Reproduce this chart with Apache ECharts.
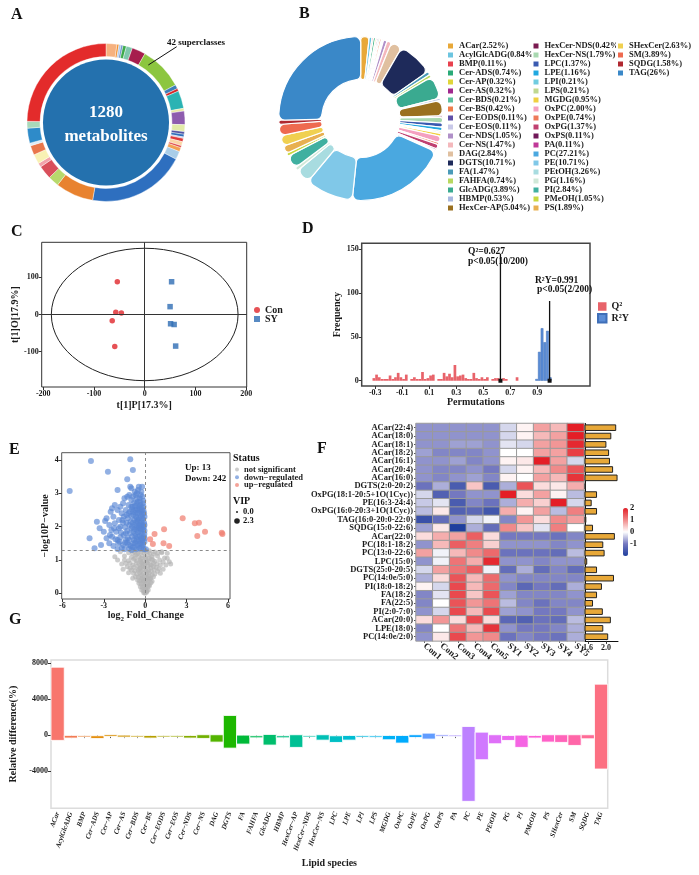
<!DOCTYPE html>
<html>
<head>
<meta charset="utf-8">
<title>Lipidomics overview</title>
<script src="https://cdn.jsdelivr.net/npm/echarts@6.0.0/dist/echarts.min.js"></script>
<style>
  html, body { margin: 0; padding: 0; background: #fff; }
  #chart { width: 699px; height: 875px; }
</style>
</head>
<body>
<div id="chart"></div>
<script>
const aTotal = 1280
const aSuper = 42
const aDeg = [8, 1.5, 1.5, 1.5, 2.5, 4.5, 10, 32, 3, 2, 13, 2, 10, 5, 2, 2, 1, 2.5, 3, 1.5, 3, 6, 72, 28, 8, 10, 3, 7, 7, 2, 11, 5, 89]
const aColors = ['#F6B17F', '#F28E2B', '#AEC7E8', '#6E94CF', '#3DAA4B', '#7FC8AC', '#A61E4D', '#8CC63F', '#3D7EB8', '#D62728',
  '#2BB3B3', '#E8E8A4', '#8E5CAE', '#E2EBA8', '#5454A4', '#2F6EBA', '#C9C9E2', '#E03A3A', '#FAD6A6', '#E04848', '#F2A154',
  '#A9CDE8', '#2E6FBF', '#E8822F', '#B7D96C', '#D94F5B', '#F2A3AB', '#F8F1B4', '#E9764B', '#DDEAF6', '#2E8BC9', '#A9D9BA', '#E32B2B']

// ---------- B: lipid classes ----------
const bNames = ['ACar', 'AcylGlcADG', 'BMP', 'Cer-ADS', 'Cer-AP', 'Cer-AS', 'Cer-BDS', 'Cer-BS', 'Cer-EODS', 'Cer-EOS',
  'Cer-NDS', 'Cer-NS', 'DAG', 'DGTS', 'FA', 'FAHFA', 'GlcADG', 'HBMP', 'HexCer-AP', 'HexCer-NDS',
  'HexCer-NS', 'LPC', 'LPE', 'LPI', 'LPS', 'MGDG', 'OxPC', 'OxPE', 'OxPG', 'OxPS',
  'PA', 'PC', 'PE', 'PEtOH', 'PG', 'PI', 'PMeOH', 'PS', 'SHexCer', 'SM', 'SQDG', 'TAG']
// percentages as printed in the legend
const bPct = ['2.52', '0.84', '0.11', '0.74', '0.32', '0.32', '0.21', '0.42', '0.11', '0.11',
  '1.05', '1.47', '2.84', '10.71', '1.47', '0.74', '3.89', '0.53', '5.04', '0.42',
  '1.79', '1.37', '1.16', '0.21', '0.21', '0.95', '2.00', '0.74', '1.37', '0.11',
  '0.11', '27.21', '10.71', '3.26', '1.16', '2.84', '1.05', '1.89', '2.63', '3.89', '1.58', '26']
// slice sizes as drawn in the donut (degrees)
const bDeg = [6, 2, 1, 1.5, 1, 1, 1, 1.2, 0.8, 0.8,
  2.5, 3.2, 8, 25, 2.5, 2, 16, 1.5, 11, 1,
  4, 3, 2.5, 1, 1, 2, 4.5, 1.5, 3.2, 1,
  1, 72, 34, 10.5, 2.5, 9.5, 2.3, 5.5, 7.5, 8, 3, 91]
const bColors = ['#E8A838', '#6CC5E0', '#E8414E', '#2AAA78', '#E0D53A', '#A0288E', '#5CC0A0', '#EE7D4C', '#6050A8', '#C8C8E8',
  '#B090C8', '#F4B8BC', '#E0C0A0', '#1E2A5A', '#4A9AB8', '#B8D860', '#3AAA90', '#A8B8E0', '#9A7020', '#7A1A50',
  '#A8D8B0', '#3A5AB0', '#20A8E0', '#70CCE0', '#C0D890', '#F0D040', '#F4A0C0', '#EE7A5A', '#C04070', '#701858',
  '#C03898', '#4AA8E0', '#80C8E8', '#A8DCE0', '#D0E8D8', '#40B0A0', '#C8D840', '#E8B050', '#F0D050', '#EE6A50', '#B02830', '#3A88C8']

// ---------- C: OPLS-DA scores ----------
const cCon = [[-54, 88], [-57, 6], [-46, 4], [-64, -17], [-59, -86]]
const cSY = [[53, 88], [50, 21], [51, -25], [58, -27], [61, -85]]
const cEllipse = [0, 0, 184, 178]
const cTicksX = [-200, -100, 0, 100, 200]
const cTicksY = [-100, 0, 100]

// ---------- D: permutation test ----------
const q2Perm = [[-0.31, 3], [-0.29, 7], [-0.27, 4], [-0.25, 2], [-0.23, 2], [-0.21, 2], [-0.19, 6], [-0.17, 2], [-0.15, 4], [-0.13, 9],
  [-0.11, 4], [-0.09, 2], [-0.07, 7], [-0.03, 2], [-0.01, 4], [0.01, 2], [0.03, 2], [0.05, 10], [0.07, 2], [0.09, 3],
  [0.11, 6], [0.13, 7], [0.17, 2], [0.19, 2], [0.21, 9], [0.23, 5], [0.25, 8], [0.27, 4], [0.29, 18], [0.31, 5],
  [0.33, 6], [0.35, 7], [0.37, 3], [0.39, 2], [0.41, 2], [0.43, 9], [0.45, 3], [0.47, 2], [0.49, 4], [0.51, 2],
  [0.53, 4], [0.57, 2], [0.59, 3], [0.61, 3], [0.65, 3], [0.67, 2], [0.75, 4]]
const r2Perm = [[0.895, 2], [0.915, 33], [0.935, 60], [0.955, 44], [0.975, 57], [0.995, 4]]
const q2Obs = 0.627, q2Line = 145
const r2Obs = 0.991, r2Line = 91
const dTicksX = [-0.3, -0.1, 0.1, 0.3, 0.5, 0.7, 0.9]
const dTicksY = [0, 50, 100, 150]

// ---------- E: volcano ----------
const eUpCount = 13, eDownCount = 242
const eUp = [[2.72, 2.25], [3.6, 2.1], [3.9, 2.12], [4.34, 1.85], [5.55, 1.82], [5.6, 1.78], [3.78, 1.72],
  [1.37, 1.92], [0.68, 1.78], [0.36, 1.62], [0.56, 1.48], [1.33, 1.5], [1.74, 1.42]]
const eDown = [[-5.47, 3.07], [-3.93, 3.97], [-1.08, 4.02], [-2.7, 3.65], [-0.89, 3.7], [-1.3, 3.42], [-2.0, 3.1], [-1.08, 3.2],
  [-1.0, 3.15], [-0.6, 3.0], [-4.03, 1.65], [-3.5, 2.15], [-2.9, 2.17], [-3.3, 1.95], [-3.67, 1.35], [-2.4, 2.55], [-1.8, 2.6],
  [-1.5, 2.85], [-1.3, 2.9], [-0.7, 2.95], [-0.4, 2.85], [-0.2, 2.9], [-1.0, 2.8], [-0.55, 2.75],
  [-2.2, 2.65], [-1.6, 2.7], [-1.2, 2.65], [-0.9, 2.6], [-0.6, 2.7], [-0.35, 2.65], [-0.15, 2.7], [-0.8, 2.72], [-0.45, 2.6], [-0.25, 2.58],
  [-2.5, 2.45], [-2.0, 2.5], [-1.7, 2.4], [-1.4, 2.5], [-1.1, 2.45], [-0.95, 2.52], [-0.7, 2.42], [-0.5, 2.5], [-0.3, 2.45], [-0.12, 2.48],
  [-0.6, 2.55], [-0.2, 2.38], [-0.85, 2.36],
  [-2.8, 2.25], [-2.3, 2.3], [-1.9, 2.2], [-1.55, 2.3], [-1.25, 2.25], [-1.0, 2.32], [-0.8, 2.2], [-0.65, 2.3], [-0.45, 2.25], [-0.3, 2.32],
  [-0.15, 2.22], [-0.05, 2.3], [-0.55, 2.15], [-1.35, 2.12], [-0.9, 2.12],
  [-2.6, 2.05], [-2.2, 2.1], [-1.8, 2.0], [-1.6, 2.12], [-1.15, 2.05], [-0.75, 2.05], [-0.4, 2.1], [-0.2, 2.05], [-0.08, 2.12], [-0.6, 1.98],
  [-0.35, 1.95], [-1.0, 1.95], [-1.45, 1.98], [-0.15, 1.92],
  [-3.0, 1.85], [-2.45, 1.9], [-2.1, 1.85], [-1.75, 1.82], [-1.3, 1.88], [-0.85, 1.85], [-0.5, 1.83], [-0.25, 1.8], [-0.05, 1.88], [-1.1, 1.8],
  [-0.7, 1.78], [-1.55, 1.75], [-0.4, 1.72],
  [-2.8, 1.65], [-2.4, 1.7], [-2.0, 1.6], [-1.8, 1.68], [-1.25, 1.65], [-0.95, 1.7], [-0.6, 1.62], [-0.3, 1.66], [-0.1, 1.7], [-0.8, 1.6],
  [-0.45, 1.58], [-1.4, 1.6], [-0.2, 1.58],
  [-3.2, 1.45], [-2.6, 1.5], [-2.3, 1.42], [-1.95, 1.5], [-1.6, 1.45], [-1.3, 1.52], [-1.05, 1.42], [-0.75, 1.5], [-0.55, 1.45], [-0.35, 1.5],
  [-0.15, 1.45], [-0.05, 1.55], [-0.9, 1.38], [-0.45, 1.36], [-0.25, 1.4], [-1.7, 1.36],
  [-2.0, 1.33], [-1.5, 1.32], [-1.15, 1.34], [-0.65, 1.32], [-0.1, 1.33], [0.05, 1.32],
  [-0.52, 2.2], [-0.28, 2.15], [-0.7, 2.5], [-0.38, 2.75], [-0.62, 1.9], [-0.18, 1.65], [-0.48, 1.95], [-0.32, 1.85], [-0.72, 1.72],
  [-0.12, 2.6], [-0.9, 2.9], [-0.28, 3.05], [-0.52, 3.1],
  [-1.9, 1.95], [-1.65, 2.2], [-1.2, 2.4], [-1.05, 2.15], [-0.95, 2.0], [-0.78, 1.92], [-0.66, 2.12], [-0.42, 2.4], [-0.22, 2.5], [-0.08, 2.4],
  [-0.1, 2.0], [-0.26, 1.92], [-0.38, 2.02], [-0.55, 1.7], [-0.68, 1.55], [-0.88, 1.5], [-1.2, 1.45], [-1.45, 1.52], [-1.85, 1.55], [-2.15, 1.62],
  [-2.55, 1.75], [-2.25, 1.95], [-1.4, 1.8], [-1.15, 1.6], [-0.98, 1.3], [-0.78, 1.38], [-0.35, 1.34], [-0.18, 1.5], [-0.06, 1.78], [-0.14, 2.78],
  [-0.32, 2.95], [-0.6, 2.85], [-0.75, 3.05], [-1.15, 2.95], [-0.46, 3.2], [-0.22, 3.2], [-0.4, 2.55], [-0.56, 2.4], [-0.74, 2.62], [-1.35, 2.35],
  [-0.3, 2.05], [-0.5, 2.02], [-0.62, 2.25], [-0.86, 2.45], [-1.0, 2.6], [-0.2, 2.25], [-0.05, 2.05], [-0.04, 1.65], [-0.28, 1.62], [-0.42, 1.48]]
const eNs = [[-1.8, 1.25], [-1.2, 1.22], [-0.8, 1.26], [-0.5, 1.2], [-0.3, 1.24], [-0.1, 1.22], [0.1, 1.25], [0.35, 1.2], [0.7, 1.24], [1.2, 1.22], [1.6, 1.2],
  [-2.2, 1.1], [-1.5, 1.12], [-1.0, 1.08], [-0.7, 1.15], [-0.45, 1.1], [-0.2, 1.12], [0.0, 1.08], [0.2, 1.14], [0.5, 1.1], [0.9, 1.12], [1.4, 1.06], [1.75, 0.95], [1.6, 1.05],
  [-1.5, 1.0], [-1.2, 0.98], [-0.85, 1.02], [-0.6, 0.97], [-0.35, 1.0], [-0.15, 0.96], [0.05, 1.02], [0.25, 0.98], [0.45, 1.03], [0.7, 0.96], [1.05, 1.0], [1.3, 0.94],
  [-1.7, 0.88], [-1.1, 0.9], [-0.9, 0.85], [-0.65, 0.92], [-0.4, 0.86], [-0.25, 0.9], [-0.05, 0.88], [0.15, 0.92], [0.35, 0.86], [0.6, 0.9], [0.85, 0.88], [1.1, 0.85], [1.85, 0.88],
  [-1.3, 0.8], [-1.1, 0.75], [-0.8, 0.78], [-0.55, 0.82], [-0.35, 0.76], [-0.2, 0.8], [0.0, 0.78], [0.2, 0.82], [0.4, 0.76], [0.6, 0.8], [0.8, 0.78], [1.0, 0.74], [1.3, 0.72],
  [-1.0, 0.7], [-0.75, 0.68], [-0.5, 0.7], [-0.3, 0.66], [-0.15, 0.72], [0.05, 0.68], [0.25, 0.7], [0.45, 0.66], [0.65, 0.7], [0.9, 0.66], [-1.2, 0.62],
  [-0.85, 0.6], [-0.6, 0.58], [-0.4, 0.62], [-0.25, 0.56], [-0.1, 0.6], [0.1, 0.58], [0.3, 0.6], [0.5, 0.56], [0.7, 0.58], [1.1, 0.6],
  [-0.7, 0.5], [-0.5, 0.48], [-0.35, 0.52], [-0.2, 0.46], [-0.05, 0.5], [0.1, 0.48], [0.25, 0.52], [0.4, 0.46], [0.6, 0.5], [-0.9, 0.45],
  [-0.55, 0.4], [-0.4, 0.38], [-0.25, 0.42], [-0.1, 0.36], [0.05, 0.4], [0.2, 0.38], [0.35, 0.42], [0.5, 0.36],
  [-0.45, 0.3], [-0.3, 0.28], [-0.15, 0.32], [0.0, 0.28], [0.15, 0.3], [0.3, 0.26], [0.42, 0.32],
  [-0.35, 0.2], [-0.2, 0.18], [-0.08, 0.22], [0.05, 0.18], [0.18, 0.2], [0.3, 0.22],
  [-0.25, 0.1], [-0.12, 0.08], [0.0, 0.12], [0.12, 0.08], [0.22, 0.1],
  [-0.1, 0.02], [0.0, 0.0], [0.1, 0.03], [-0.05, 0.05], [0.05, 0.05],
  [-0.6, 1.18], [0.6, 1.18], [-0.9, 1.2], [0.9, 1.2], [-0.3, 1.05], [0.3, 1.05], [-0.15, 0.85], [0.45, 0.85], [-0.45, 0.72], [0.15, 0.65],
  [-0.15, 0.4], [0.25, 0.45], [-0.3, 0.95], [0.1, 0.95], [0.55, 1.0], [-0.75, 1.05], [-1.4, 0.9], [1.5, 0.85], [-2.0, 1.0], [-1.6, 0.72],
  [1.2, 1.25], [-0.05, 1.28], [0.3, 1.28]]
const eCut = 1.3
const eTicksX = [-6, -3, 0, 3, 6]
const eTicksY = [0, 1, 2, 3, 4]
const eVip = ['0.0', '2.3']

// ---------- F: heatmap + VIP ----------
const fRows = ['ACar(22:4)', 'ACar(18:0)', 'ACar(18:1)', 'ACar(18:2)', 'ACar(16:1)', 'ACar(20:4)', 'ACar(16:0)',
  'DGTS(2:0-20:2)', 'OxPG(18:1-20:5+1O(1Cyc))', 'PE(16:3-24:4)', 'OxPG(16:0-20:3+1O(1Cyc))', 'TAG(16:0-20:0-22:0)',
  'SQDG(15:0-22:6)', 'ACar(22:0)', 'PC(18:1-18:2)', 'PC(13:0-22:6)', 'LPC(15:0)', 'DGTS(25:0-20:5)', 'PC(14:0e/5:0)',
  'PI(18:0-18:2)', 'FA(18:2)', 'FA(22:5)', 'PI(2:0-7:0)', 'ACar(20:0)', 'LPE(18:0)', 'PC(14:0e/2:0)']
const fCols = ['Con1', 'Con2', 'Con3', 'Con4', 'Con5', 'SY1', 'SY2', 'SY3', 'SY4', 'SY5']
const fVals = [
  [-0.8, -0.8, -0.8, -0.8, -0.8, -0.3, 0.1, 0.8, 0.6, 2.0],
  [-0.8, -0.8, -0.8, -0.8, -0.8, -0.3, 0.1, 0.6, 0.8, 2.0],
  [-0.8, -0.8, -0.7, -0.7, -0.8, -0.2, -0.3, 0.8, 0.9, 1.9],
  [-0.7, -0.9, -0.9, -0.9, -0.8, 0.0, 0.0, 0.8, 0.8, 1.7],
  [-0.8, -0.8, -0.7, -0.9, -0.8, 0.1, 0.2, 2.0, 0.8, -0.3],
  [-0.8, -0.9, -0.9, -0.8, -1.0, -0.3, 0.1, 0.6, 1.0, 1.5],
  [-0.8, -0.9, -0.8, -0.7, -0.9, 0.1, 0.0, 0.8, 0.6, 1.8],
  [-1.1, -0.6, -1.5, 0.5, -1.5, -0.6, 1.5, 0.3, 0.2, 0.7],
  [-0.3, -1.4, -1.0, -0.8, -0.8, 2.2, 0.3, 0.8, 0.1, -0.5],
  [-0.4, -0.2, -1.5, -0.9, -1.1, -0.6, 0.7, 0.4, 2.1, -0.3],
  [-0.5, 0.2, -1.4, -1.3, -1.6, 0.7, 0.1, 0.8, -0.5, 1.1],
  [-1.7, -1.2, -0.8, -0.3, -0.1, -0.9, 0.9, 0.3, 1.0, 0.8],
  [-0.7, 0.2, -2.0, -0.6, -1.2, 1.0, 0.5, -0.2, 1.1, 0.0],
  [0.3, 0.7, 0.8, 1.4, 0.3, -1.0, -1.0, -1.0, -1.1, -0.9],
  [-0.8, 0.6, 1.4, 1.1, 0.4, -0.8, -0.8, -0.8, -0.9, -0.8],
  [0.8, -0.1, 0.6, 1.0, 1.3, -1.1, -1.1, -1.1, -1.2, -0.5],
  [-0.8, -0.1, 1.2, 0.7, 1.9, -0.8, -0.8, -0.9, -0.8, -0.8],
  [-0.3, 0.8, 1.2, 1.4, -0.1, -1.2, -0.6, -1.2, -0.9, -1.2],
  [-0.6, 0.3, 1.5, 0.6, 1.3, -0.8, -0.9, -0.9, -0.9, -0.9],
  [0.1, -0.3, 1.6, 0.6, 1.3, -0.9, -1.3, -1.0, -1.2, -0.6],
  [-0.9, -0.2, 1.6, 0.5, 1.5, -0.7, -0.9, -0.9, -0.9, -0.8],
  [-0.9, 0.0, 1.5, 0.9, 1.2, -0.5, -0.9, -1.1, -0.9, -0.9],
  [-0.8, -0.3, 1.6, 0.6, 1.6, -0.7, -0.8, -1.0, -1.0, -0.8],
  [0.3, 0.9, 0.3, 1.6, 0.3, -1.3, -1.4, -1.1, -1.2, -0.5],
  [-0.9, 0.0, 1.2, 0.6, 1.8, -0.8, -1.0, -1.0, -0.9, -0.6],
  [-0.8, 0.2, 1.6, 0.9, 1.0, -1.1, -0.9, -1.0, -1.1, -0.6]
]
const fVip = [2.23, 2.12, 2.01, 2.07, 2.09, 2.16, 2.26, 1.55, 1.80, 1.68, 1.80, 1.56, 1.71,
  2.20, 1.94, 1.97, 1.58, 1.80, 2.18, 1.91, 1.80, 1.71, 1.93, 2.11, 1.94, 2.05]
const fVipTicks = [1.6, 2.0]
const fScaleTicks = [2, 1, 0, -1]

// ---------- G: relative difference per class (top and bottom of each bar, %) ----------
const gHigh = [7570, -30, -40, -75, 40, 0, -40, -40, -40, -40, -40, 40, 40, 2190, 0, -75, 75, -75, 40, -40,
  40, -75, -40, -40, -75, -40, -40, 40, 220, 40, 0, 965, 330, 40, -40, 0, -40, 40, 40, 40, 40, 5680]
const gLow = [-590, -330, -150, -370, -150, -220, -185, -330, -150, -110, -330, -370, -780, -1450, -1000, -300, -1110, -300, -1370, -185,
  -560, -820, -560, -220, -185, -520, -890, -260, -445, -110, -150, -7380, -2745, -965, -595, -1370, -330, -780, -815, -1150, -410, -3780]
const gTicks = [-4000, 0, 4000, 8000]
const gNames = bNames.map(n => n.replace(/-/g, '\u2212'))

// ggplot-like hue palette
function hcl(h, c, l) {
  const hr = h * Math.PI / 180
  const U = c * Math.cos(hr), V = c * Math.sin(hr)
  const Xn = 95.047, Yn = 100, Zn = 108.883
  const un = 4 * Xn / (Xn + 15 * Yn + 3 * Zn), vn = 9 * Yn / (Xn + 15 * Yn + 3 * Zn)
  const Y = l > 8 ? Yn * Math.pow((l + 16) / 116, 3) : Yn * l / 903.3
  const u = U / (13 * l) + un, v = V / (13 * l) + vn
  const X = Y * 9 * u / (4 * v), Z = Y * (12 - 3 * u - 20 * v) / (4 * v)
  const x = X / 100, y = Y / 100, z = Z / 100
  const lin = [3.240479 * x - 1.53715 * y - 0.498535 * z,
    -0.969256 * x + 1.875992 * y + 0.041556 * z,
    0.055648 * x - 0.204043 * y + 1.057311 * z]
  return '#' + lin.map(t => {
    t = t <= 0.0031308 ? 12.92 * t : 1.055 * Math.pow(t, 1 / 2.4) - 0.055
    const n = Math.round(Math.min(1, Math.max(0, t)) * 255)
    return (n < 16 ? '0' : '') + n.toString(16)
  }).join('')
}
const gColors = gNames.map((n, i) => hcl(15 + 360 * i / gNames.length, 100, 65))

const FONT = 'Liberation Serif'
function bold(size, more) {
  return Object.assign({ fontFamily: FONT, fontWeight: 'bold', fontSize: size, color: '#1b1b1b' }, more || {})
}
function valueAxis(grid, min, max, ticks, more) {
  return Object.assign({
    gridIndex: grid, type: 'value', min: min, max: max,
    axisLine: { show: false, onZero: false },
    axisTick: { show: true, length: 3, customValues: ticks, lineStyle: { color: '#333' } },
    axisLabel: bold(8, { customValues: ticks, margin: 3, formatter: v => String(v) }),
    splitLine: { show: false },
    nameLocation: 'middle',
    nameTextStyle: bold(10)
  }, more || {})
}
function text(x, y, str, size, more) {
  return {
    type: 'text', x: x, y: y, z: 100, silent: true,
    style: Object.assign({ text: str, font: 'bold ' + size + 'px "' + FONT + '"', fill: '#111', align: 'left', verticalAlign: 'middle' }, more || {})
  }
}

const chart = echarts.init(document.getElementById('chart'))

const series = [
  // A
  {
    type: 'pie', center: [106, 122.5], radius: [0, 63], silent: true, label: { show: false },
    data: [{ value: aTotal, itemStyle: { color: '#2471AE' } }]
  },
  {
    type: 'pie', center: [106, 122.5], radius: [66, 79], startAngle: 90, silent: true,
    label: { show: false }, labelLine: { show: false },
    itemStyle: { borderColor: '#fff', borderWidth: 0.4 },
    data: aDeg.map((v, i) => ({ value: v, name: 'sc' + (i + 1), itemStyle: { color: aColors[i] } }))
  },
  // B
  {
    type: 'pie', center: [360.7, 118.5], radius: [39, 82], startAngle: 90, silent: true,
    label: { show: false }, labelLine: { show: false },
    itemStyle: { borderColor: '#fff', borderWidth: 1.2, borderRadius: 6 },
    data: bNames.map((n, i) => ({ name: n, value: bDeg[i], itemStyle: { color: bColors[i] } }))
  },
  // C
  {
    type: 'scatter', name: 'Con', xAxisIndex: 0, yAxisIndex: 0, data: cCon, symbol: 'circle', symbolSize: 5.5,
    itemStyle: { color: '#E0262B' },
    markLine: {
      silent: true, symbol: ['none', 'none'], label: { show: false },
      lineStyle: { color: '#333', type: 'solid', width: 1 },
      data: [{ xAxis: 0 }, { yAxis: 0 }]
    }
  },
  { type: 'scatter', name: 'SY', xAxisIndex: 0, yAxisIndex: 0, data: cSY, symbol: 'rect', symbolSize: 5.5, itemStyle: { color: '#2E6DB4' } },
  {
    type: 'custom', xAxisIndex: 0, yAxisIndex: 0, silent: true, data: [cEllipse],
    renderItem: (params, api) => {
      const c = api.coord([api.value(0), api.value(1)])
      const s = api.size([api.value(2), api.value(3)])
      return { type: 'ellipse', shape: { cx: c[0], cy: c[1], rx: s[0], ry: s[1] }, style: { fill: 'none', stroke: '#222', lineWidth: 1 } }
    }
  },
  // D
  { type: 'bar', name: 'Q²', xAxisIndex: 1, yAxisIndex: 1, data: q2Perm, barWidth: 2.7, barGap: '-100%', itemStyle: { color: '#E8636A' } },
  { type: 'bar', name: 'R²Y', xAxisIndex: 1, yAxisIndex: 1, data: r2Perm, barWidth: 2.7, barGap: '-100%', itemStyle: { color: '#5B8DD6', borderColor: '#3F6FB8', borderWidth: 0.5 } },
  {
    type: 'line', xAxisIndex: 1, yAxisIndex: 1, silent: true, z: 5, showSymbol: true,
    lineStyle: { color: '#111', width: 1.3 }, itemStyle: { color: '#111' },
    data: [{ value: [q2Obs, 0], symbol: 'rect', symbolSize: 4 }, { value: [q2Obs, q2Line], symbol: 'none' }]
  },
  {
    type: 'line', xAxisIndex: 1, yAxisIndex: 1, silent: true, z: 5, showSymbol: true,
    lineStyle: { color: '#111', width: 1.3 }, itemStyle: { color: '#111' },
    data: [{ value: [r2Obs, 0], symbol: 'rect', symbolSize: 4 }, { value: [r2Obs, r2Line], symbol: 'none' }]
  },
  // E
  {
    type: 'scatter', name: 'not significant', xAxisIndex: 2, yAxisIndex: 2, data: eNs, symbolSize: 5,
    itemStyle: { color: 'rgba(180,180,180,0.85)' },
    markLine: {
      silent: true, symbol: ['none', 'none'], label: { show: false },
      lineStyle: { color: '#8a8a8a', type: [3, 3], width: 1 },
      data: [{ xAxis: 0 }, { yAxis: eCut }]
    }
  },
  { type: 'scatter', name: 'down\u2212regulated', xAxisIndex: 2, yAxisIndex: 2, data: eDown, symbolSize: 6, itemStyle: { color: 'rgba(88,134,212,0.82)' } },
  { type: 'scatter', name: 'up\u2212regulated', xAxisIndex: 2, yAxisIndex: 2, data: eUp, symbolSize: 6, itemStyle: { color: 'rgba(240,126,112,0.9)' } },
  // F
  {
    type: 'heatmap', xAxisIndex: 3, yAxisIndex: 3,
    data: fVals.flatMap((row, r) => row.map((v, c) => [c, r, v])),
    itemStyle: { borderColor: '#9a9a9a', borderWidth: 1 }, emphasis: { disabled: true }
  },
  {
    type: 'bar', xAxisIndex: 4, yAxisIndex: 4, data: fVip, barWidth: 6.6,
    itemStyle: { color: '#E8A838', borderColor: '#222', borderWidth: 1 }
  },
  // G
  {
    type: 'custom', xAxisIndex: 5, yAxisIndex: 5,
    data: gNames.map((n, i) => [i, gHigh[i], gLow[i]]),
    encode: { x: 0, y: [1, 2] },
    renderItem: (params, api) => {
      const i = api.value(0)
      const top = api.coord([i, api.value(1)])
      const bot = api.coord([i, api.value(2)])
      const w = api.size([1, 0])[0]
      return {
        type: 'rect',
        shape: { x: top[0] - w / 2, y: top[1], width: w, height: Math.max(bot[1] - top[1], 1.5) },
        style: { fill: gColors[i], stroke: 'rgba(255,255,255,0.85)', lineWidth: 1 }
      }
    }
  }
]

const bCols = [bNames.slice(0, 19), bNames.slice(19, 38), bNames.slice(38)]

const option = {
  animation: false,
  backgroundColor: '#fff',
  textStyle: { fontFamily: FONT },
  grid: [
    { left: 41.7, top: 242.3, width: 205, height: 144.7, show: true, borderColor: '#333', borderWidth: 1 },
    { left: 361.7, top: 243.3, width: 228.3, height: 142.7, show: true, borderColor: '#444', borderWidth: 1.5 },
    { left: 61.7, top: 452.7, width: 168.3, height: 146.3, show: true, borderColor: '#555', borderWidth: 1 },
    { left: 416, top: 423.5, width: 168, height: 217.4 },
    { left: 585, top: 423.5, width: 33, height: 217.4 },
    { left: 51, top: 660, width: 556.7, height: 148.3, show: true, borderColor: '#dcdcdc', borderWidth: 1.5 }
  ],
  xAxis: [
    valueAxis(0, -203, 201, cTicksX, { name: 't[1]P[17.3%]', nameGap: 13 }),
    valueAxis(1, -0.40, 1.29, dTicksX, { name: 'Permutations', nameGap: 10 }),
    valueAxis(2, -6.05, 6.15, eTicksX, { name: 'log{s|2} Fold_Change', nameGap: 9, nameTextStyle: bold(10, { rich: { s: bold(7, { padding: [6, 0, 0, 0] }) } }) }),
    {
      gridIndex: 3, type: 'category', data: fCols,
      axisLine: { show: false }, axisTick: { show: true, alignWithLabel: true, length: 2 },
      axisLabel: bold(9, { rotate: -40, margin: 4, interval: 0 })
    },
    valueAxis(4, 1.53, 2.27, fVipTicks, {
      axisLine: { show: true, onZero: false, lineStyle: { color: '#111', width: 1 } },
      axisLabel: bold(8, { customValues: fVipTicks, margin: 3, formatter: v => v.toFixed(1) })
    }),
    {
      gridIndex: 5, type: 'category', data: gNames,
      axisLine: { show: false },
      axisTick: { show: true, alignWithLabel: true, length: 3, lineStyle: { color: '#555' } },
      axisLabel: bold(7, { rotate: 70, interval: 0, margin: 4, fontStyle: 'italic' }),
      name: 'Lipid species', nameLocation: 'middle', nameGap: 50, nameTextStyle: bold(10)
    }
  ],
  yAxis: [
    valueAxis(0, -195, 194, cTicksY, { name: 't[1]O[17.9%]', nameGap: 21 }),
    valueAxis(1, -6, 157, dTicksY, { name: 'Frequency', nameGap: 18 }),
    valueAxis(2, -0.17, 4.22, eTicksY, { name: '\u2212log10P\u2212value', nameGap: 8 }),
    {
      gridIndex: 3, type: 'category', data: fRows, inverse: true,
      axisLine: { show: false }, axisTick: { show: true, alignWithLabel: true, length: 2, interval: 0 },
      axisLabel: bold(8.5, { margin: 3, interval: 0 })
    },
    {
      gridIndex: 4, type: 'category', data: fRows, inverse: true,
      axisLine: { show: true, onZero: false, lineStyle: { color: '#111' } },
      axisTick: { show: false }, axisLabel: { show: false }
    },
    valueAxis(5, -8155, 8368, gTicks, { name: 'Relative difference(%)', nameGap: 28 })
  ],
  visualMap: [{
    type: 'continuous', min: -2, max: 2, seriesIndex: series.findIndex(s => s.type === 'heatmap'),
    left: 623, top: 508, itemWidth: 5, itemHeight: 48, padding: 0, calculable: false,
    inRange: { color: ['#1F3F9E', '#7478C0', '#FFFFFF', '#F08A8A', '#E41E26'] }
  }],
  legend: bCols.map((d, k) => ({
    data: d, orient: 'vertical', left: [446, 531.5, 616][k], top: 41.5, padding: 0,
    itemWidth: 7, itemHeight: 7, itemGap: 0, itemTextGap: 3, icon: 'rect', selectedMode: false,
    textStyle: bold(8.5),
    formatter: n => n + '(' + bPct[bNames.indexOf(n)] + '%)'
  })).concat([
    {
      data: ['Con', 'SY'], orient: 'vertical', left: 254, top: 305, padding: 0, selectedMode: false,
      itemWidth: 6, itemHeight: 6, itemGap: -1, itemTextGap: 4, textStyle: bold(10)
    },
    {
      data: ['Q²', 'R²Y'], orient: 'vertical', left: 597, top: 301.5, padding: 0, selectedMode: false, icon: 'rect',
      itemWidth: 8.5, itemHeight: 8.5, itemGap: 1.5, itemTextGap: 4, textStyle: bold(10)
    },
    {
      data: ['not significant', 'down\u2212regulated', 'up\u2212regulated'], orient: 'vertical', left: 235, top: 465,
      padding: 0, selectedMode: false, icon: 'circle',
      itemWidth: 4, itemHeight: 4, itemGap: -1.2, itemTextGap: 4, textStyle: bold(8.5)
    }
  ]),
  graphic: [
    text(11, 15, 'A', 16), text(299, 14, 'B', 16), text(11, 232, 'C', 16), text(302, 229, 'D', 16),
    text(9, 450, 'E', 16), text(317, 449, 'F', 16), text(9, 620, 'G', 16),
    text(106, 113, String(aTotal), 17, { fill: '#fff', align: 'center' }),
    text(106, 137, 'metabolites', 17, { fill: '#fff', align: 'center' }),
    text(167, 43, aSuper + ' superclasses', 9),
    { type: 'line', z: 100, silent: true, shape: { x1: 176.7, y1: 46.7, x2: 148.3, y2: 65 }, style: { stroke: '#111', lineWidth: 1 } },
    text(468, 252, 'Q²=' + q2Obs, 9.5), text(468, 262, 'p<0.05(10/200)', 9.5),
    text(535, 281, 'R²Y=' + r2Obs, 9.5), text(537, 290, 'p<0.05(2/200)', 9.5),
    text(185, 467.7, 'Up: ' + eUpCount, 9), text(185, 478.3, 'Down: ' + eDownCount, 9),
    text(233, 458, 'Status', 10),
    text(233, 501.7, 'VIP', 10),
    { type: 'circle', z: 100, silent: true, shape: { cx: 237, cy: 512, r: 1 }, style: { fill: '#222' } },
    { type: 'circle', z: 100, silent: true, shape: { cx: 237, cy: 521, r: 2.8 }, style: { fill: '#222' } },
    text(243, 512, eVip[0], 8.5), text(243, 521, eVip[1], 8.5)
  ].concat(fScaleTicks.map(v => text(630, 508 + (2 - v) * 12, String(v), 8.5))),
  series: series
}

chart.setOption(option)
</script>
</body>
</html>
